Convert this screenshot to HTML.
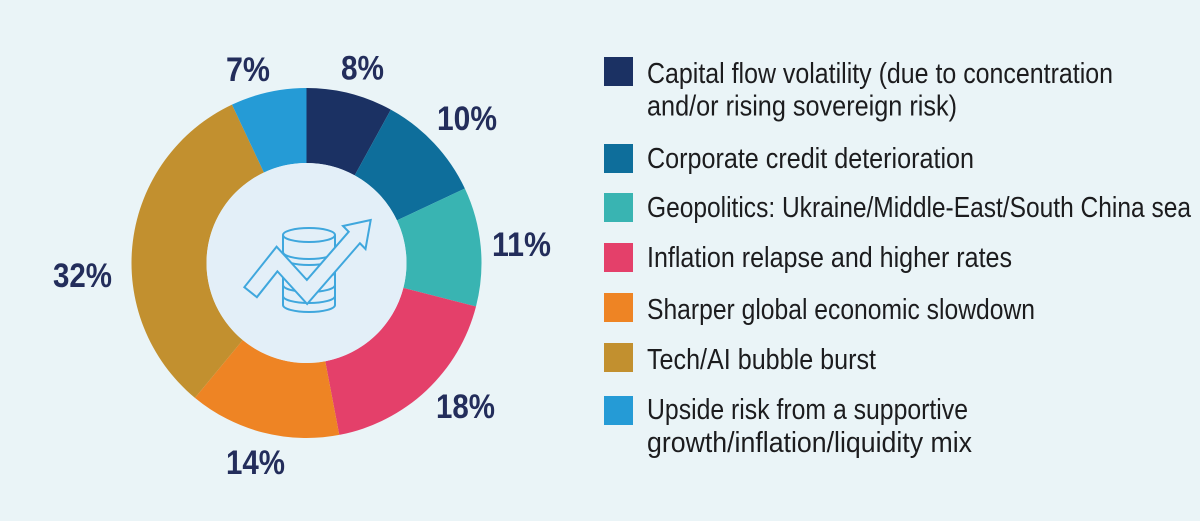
<!DOCTYPE html>
<html>
<head>
<meta charset="utf-8">
<style>
  html, body { margin: 0; padding: 0; background: #eaf4f7; }
  svg { display: block; }
  .pct { font-family: "Liberation Sans", sans-serif; font-weight: bold; font-size: 34px; fill: #232d5b; }
  .lg { font-family: "Liberation Sans", sans-serif; font-size: 28.5px; fill: #1c1c1e; }
</style>
</head>
<body>
<svg width="1200" height="521" viewBox="0 0 1200 521" xmlns="http://www.w3.org/2000/svg">
  <rect x="0" y="0" width="1200" height="521" fill="#eaf4f7"/>

  <!-- Donut slices -->
  <path d="M306.5 88 A175 175 0 0 1 390.81 109.65 L354.68 175.37 A100 100 0 0 0 306.5 163 Z" fill="#1b3163"/>
  <path d="M390.81 109.65 A175 175 0 0 1 464.85 188.49 L396.98 220.42 A100 100 0 0 0 354.68 175.37 Z" fill="#0e6e9b"/>
  <path d="M464.85 188.49 A175 175 0 0 1 476.00 306.52 L403.36 287.87 A100 100 0 0 0 396.98 220.42 Z" fill="#39b4b2"/>
  <path d="M476.00 306.52 A175 175 0 0 1 339.29 434.90 L325.24 361.23 A100 100 0 0 0 403.36 287.87 Z" fill="#e4406a"/>
  <path d="M339.29 434.90 A175 175 0 0 1 194.95 397.84 L242.76 340.05 A100 100 0 0 0 325.24 361.23 Z" fill="#ee8424"/>
  <path d="M194.95 397.84 A175 175 0 0 1 231.99 104.65 L263.92 172.52 A100 100 0 0 0 242.76 340.05 Z" fill="#c2902f"/>
  <path d="M231.99 104.65 A175 175 0 0 1 306.5 88 L306.5 163 A100 100 0 0 0 263.92 172.52 Z" fill="#259bd6"/>

  <!-- Inner circle -->
  <circle cx="306.5" cy="263" r="100" fill="#e3eff8"/>

  <!-- Icon: coin stack -->
  <g fill="none" stroke="#3fa7dd" stroke-width="2">
    <ellipse cx="309" cy="235" rx="26" ry="7"/>
    <line x1="283" y1="235" x2="283" y2="305"/>
    <line x1="335" y1="235" x2="335" y2="305"/>
    <path d="M283 252 A26 7 0 0 0 335 252"/>
    <path d="M283 258 A26 7 0 0 0 335 258"/>
    <path d="M283 272 A26 7 0 0 0 335 272"/>
    <path d="M283 285 A26 7 0 0 0 335 285"/>
    <path d="M283 296 A26 7 0 0 0 335 296"/>
    <path d="M283 305 A26 7 0 0 0 335 305"/>
  </g>
  <!-- Icon: zigzag arrow -->
  <path d="M250 293 L277 259 L307 292 L354.25 237.5" fill="none" stroke="#3fa7dd" stroke-width="18" stroke-linejoin="miter" stroke-linecap="butt"/>
  <polygon points="370.7,220 343,226 365.5,249" fill="#e3eff8" stroke="#3fa7dd" stroke-width="2" stroke-linejoin="miter"/>
  <path d="M251.2 291.4 L277 259 L307 292 L355.8 235.8" fill="none" stroke="#e3eff8" stroke-width="14" stroke-linejoin="miter" stroke-linecap="butt"/>

  <!-- Percent labels -->
  <text class="pct" x="226" y="81" textLength="44" lengthAdjust="spacingAndGlyphs">7%</text>
  <text class="pct" x="341" y="79.5" textLength="43" lengthAdjust="spacingAndGlyphs">8%</text>
  <text class="pct" x="437" y="130" textLength="60" lengthAdjust="spacingAndGlyphs">10%</text>
  <text class="pct" x="492" y="256" textLength="59" lengthAdjust="spacingAndGlyphs">11%</text>
  <text class="pct" x="436" y="418" textLength="59" lengthAdjust="spacingAndGlyphs">18%</text>
  <text class="pct" x="226" y="474" textLength="59" lengthAdjust="spacingAndGlyphs">14%</text>
  <text class="pct" x="53" y="287" textLength="59" lengthAdjust="spacingAndGlyphs">32%</text>

  <!-- Legend squares -->
  <rect x="604" y="57" width="29" height="29" fill="#1b3163"/>
  <rect x="604" y="144" width="29" height="29" fill="#0e6e9b"/>
  <rect x="604" y="193" width="29" height="29" fill="#39b4b2"/>
  <rect x="604" y="243" width="29" height="29" fill="#e4406a"/>
  <rect x="604" y="293" width="29" height="29" fill="#ee8424"/>
  <rect x="604" y="343" width="29" height="29" fill="#c2902f"/>
  <rect x="604" y="396" width="29" height="29" fill="#259bd6"/>

  <!-- Legend text -->
  <text class="lg" x="647" y="83" textLength="466" lengthAdjust="spacingAndGlyphs">Capital flow volatility (due to concentration</text>
  <text class="lg" x="647" y="115.5" textLength="310" lengthAdjust="spacingAndGlyphs">and/or rising sovereign risk)</text>
  <text class="lg" x="647" y="168" textLength="327" lengthAdjust="spacingAndGlyphs">Corporate credit deterioration</text>
  <text class="lg" x="647" y="217" textLength="544" lengthAdjust="spacingAndGlyphs">Geopolitics: Ukraine/Middle-East/South China sea</text>
  <text class="lg" x="647" y="267" textLength="365" lengthAdjust="spacingAndGlyphs">Inflation relapse and higher rates</text>
  <text class="lg" x="647" y="319" textLength="388" lengthAdjust="spacingAndGlyphs">Sharper global economic slowdown</text>
  <text class="lg" x="647" y="369" textLength="229" lengthAdjust="spacingAndGlyphs">Tech/AI bubble burst</text>
  <text class="lg" x="647" y="419" textLength="321" lengthAdjust="spacingAndGlyphs">Upside risk from a supportive</text>
  <text class="lg" x="647" y="452" textLength="325" lengthAdjust="spacingAndGlyphs">growth/inflation/liquidity mix</text>
</svg>
</body>
</html>
